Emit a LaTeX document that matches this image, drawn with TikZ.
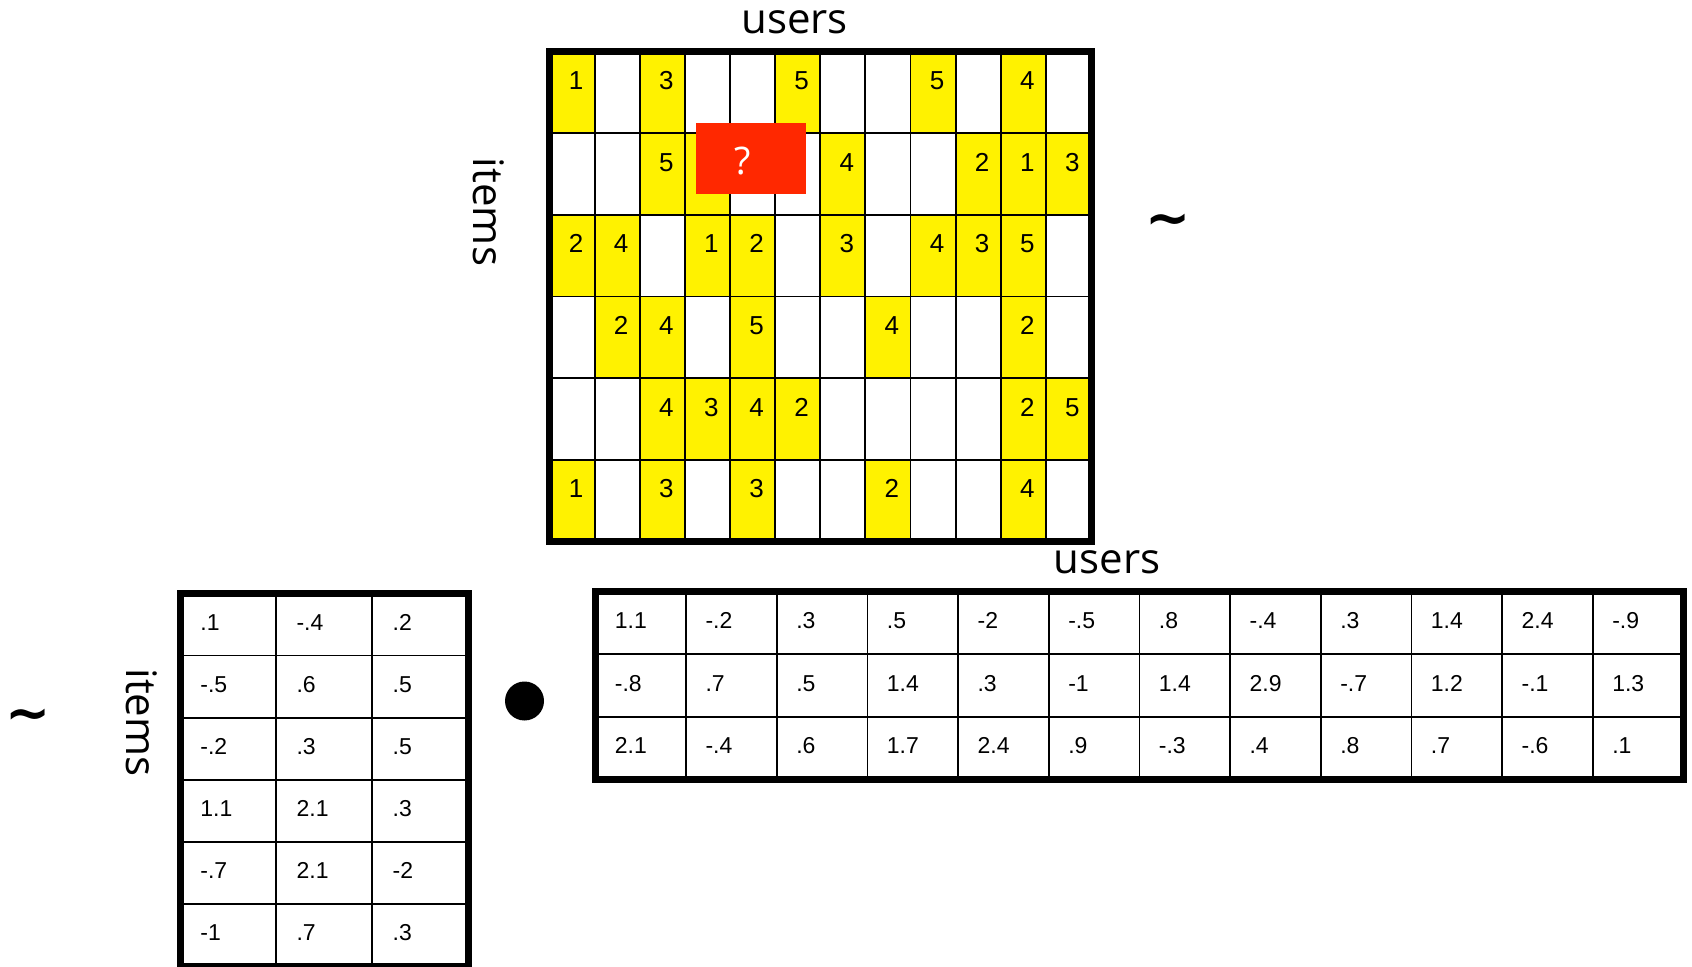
\documentclass[tikz,border=0pt]{standalone}
\usepackage{fontspec}
\setmainfont{Liberation Sans}
\newfontfamily\labelfont{Open Sans}
\newfontfamily\tildefont{DejaVu Sans}
\usepackage{tikz}
\usetikzlibrary{positioning}
\definecolor{ratingyellow}{RGB}{255,242,0}
\definecolor{queryred}{RGB}{255,40,0}

\begin{document}
\begin{tikzpicture}[
  x=0.5pt, y=-0.5pt,
  gridline/.style={line width=0.9pt},
  frame/.style={line width=3.5pt},
  rating/.style={anchor=base east, inner sep=0pt, font=\fontsize{13}{15}\selectfont},
  factor/.style={anchor=base west, inner sep=0pt, font=\fontsize{11.5}{13}\selectfont},
  axislabel/.style={anchor=base, inner sep=0pt, font=\labelfont\fontsize{21}{25}\selectfont},
  approx/.style={anchor=base, inner sep=0pt, font=\tildefont\bfseries\fontsize{27}{30}\selectfont}
]
  \useasboundingbox (0,0) rectangle (1692,967);

  \foreach \c/\r/\v in {1/1/1, 3/1/3, 6/1/5, 9/1/5, 11/1/4,
      3/2/5, 7/2/4, 10/2/2, 11/2/1, 12/2/3,
      1/3/2, 2/3/4, 4/3/1, 5/3/2, 7/3/3, 9/3/4, 10/3/3, 11/3/5,
      2/4/2, 3/4/4, 5/4/5, 8/4/4, 11/4/2,
      3/5/4, 4/5/3, 5/5/4, 6/5/2, 11/5/2, 12/5/5,
      1/6/1, 3/6/3, 5/6/3, 8/6/2, 11/6/4} {
    \fill[ratingyellow] ({549.5+(\c-1)*45.125},{51.5+(\r-1)*81.667}) rectangle ++(45.125,81.667);
    \node[rating] (R-\r-\c) at ({549.5+\c*45.125-11},{51.5+(\r-1)*81.667+38}) {\v};
  }
  \fill[ratingyellow] ({549.5+3*45.125},{51.5+81.667}) rectangle ++(45.125,81.667);
  \foreach \c in {1,...,11}
    \draw[gridline] ({549.5+\c*45.125},51.5) -- ++(0,490);
  \foreach \r in {1,...,5}
    \draw[gridline] (549.5,{51.5+\r*81.667}) -- ++(541.5,0);
  \draw[frame] (549.5,51.5) rectangle (1091,541.5);

  \node[fill=queryred, inner sep=0pt, minimum width=55pt, minimum height=35.5pt] (query) at (751,158.5) {};
  \node[axislabel, anchor=center, text=white, font=\labelfont\fontsize{19}{21}\selectfont] (qmark)
    at ([shift={(-8,3)}]query.center) {?};

  \node[axislabel] (usersR) at (794.5,33.5) {users};
  \node[axislabel, rotate=-90] (itemsR) at (473,212) {items};
  \node[approx] (simR) at (1168,237) {\textasciitilde};

  \foreach \row [count=\r] in {{.1,-.4,.2},{-.5,.6,.5},{-.2,.3,.5},{1.1,2.1,.3},{-.7,2.1,-2},{-1,.7,.3}}
    \foreach \v [count=\c] in \row
      \node[factor] (P-\r-\c) at ({180+(\c-1)*96.17+20},{593.5+(\r-1)*62.08+37}) {\v};
  \foreach \c in {1,2}
    \draw[gridline] ({180+\c*96.17},593.5) -- ++(0,372.5);
  \foreach \r in {1,...,5}
    \draw[gridline] (180,{593.5+\r*62.08}) -- ++(288.5,0);
  \draw[frame] (180,593.5) rectangle (468.5,966);

  \node[axislabel, rotate=-90] (itemsP) at (126,722.5) {items};
  \node[approx] (simP) at (28,731) {\textasciitilde};
  \node[circle, fill=black, inner sep=0pt, minimum size=19.5pt] (dot) at (524.5,701) {};

  \foreach \row [count=\r] in {{1.1,-.2,.3,.5,-2,-.5,.8,-.4,.3,1.4,2.4,-.9},
      {-.8,.7,.5,1.4,.3,-1,1.4,2.9,-.7,1.2,-.1,1.3},
      {2.1,-.4,.6,1.7,2.4,.9,-.3,.4,.8,.7,-.6,.1}}
    \foreach \v [count=\c] in \row
      \node[factor] (Q-\r-\c) at ({595.5+(\c-1)*90.67+19},{591.5+(\r-1)*62.67+37}) {\v};
  \foreach \c in {1,...,11}
    \draw[gridline] ({595.5+\c*90.67},591.5) -- ++(0,188);
  \foreach \r in {1,2}
    \draw[gridline] (595.5,{591.5+\r*62.67}) -- ++(1088,0);
  \draw[frame] (595.5,591.5) rectangle (1683.5,779.5);

  \node[axislabel] (usersQ) at (1107,574) {users};
\end{tikzpicture}
\end{document}
